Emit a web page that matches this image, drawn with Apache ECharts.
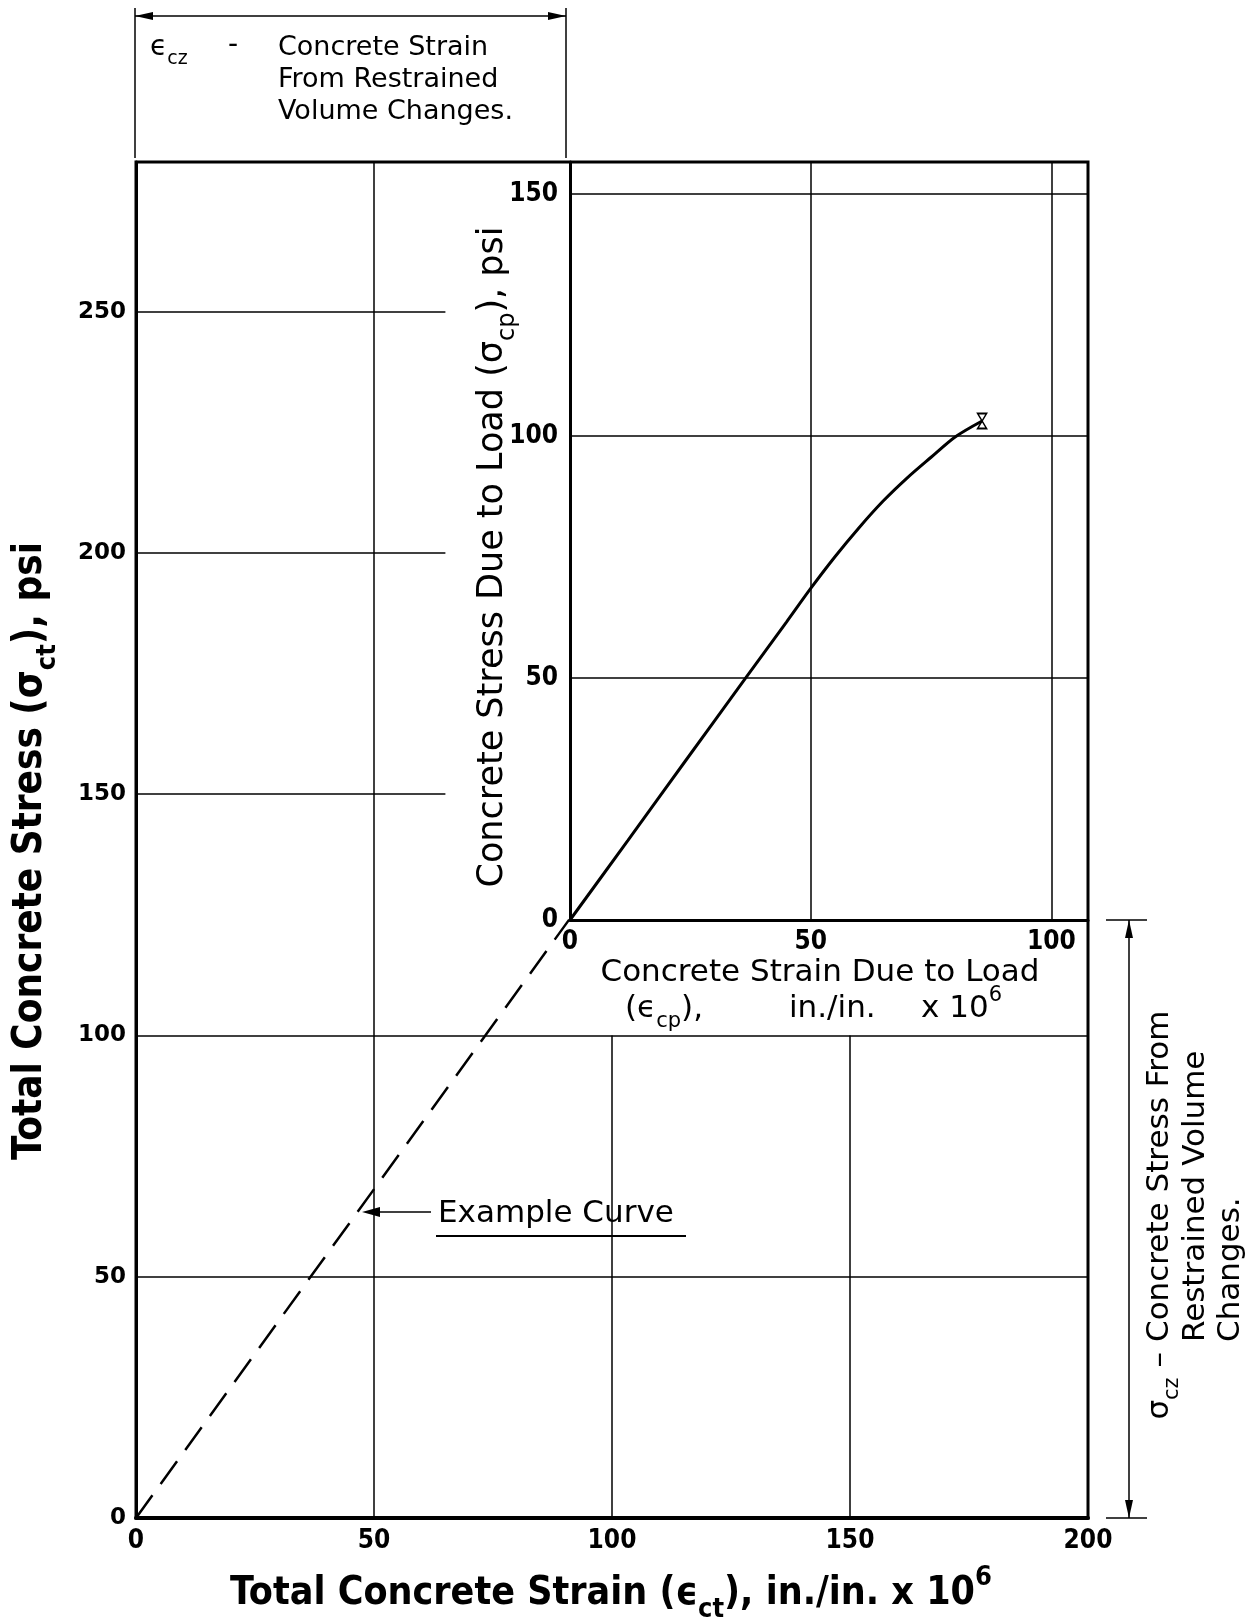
<!DOCTYPE html>
<html>
<head>
    <meta charset="utf-8">
    <title>Total Concrete Stress vs Strain</title>
    <style type="text/css">
        body {
            margin: 0;
            background: #fff;
        }
        #chart {
            width: 1248px;
            height: 1617px;
        }
    </style>
</head>
<body>

    <div id="chart"></div>
    <script src="https://cdn.jsdelivr.net/npm/echarts@6/dist/echarts.min.js"></script>

    <script>
        // main chart: total strain / total stress
        var mainXTicks = [0, 50, 100, 150, 200];
        var mainYTicks = [0, 50, 100, 150, 200, 250];
        var mainXRange = [0, 200];
        var mainYRange = [0, 281];

        // inset: strain / stress due to load
        var insetXTicks = [0, 50, 100];
        var insetYTicks = [0, 50, 100, 150];
        var insetXRange = [0, 107.6];
        var insetYRange = [0, 156.6];

        // grid lines of the main chart, they stop short in the drawing: [value, from, to]
        var mainHGrid = [[250, 0, 65], [200, 0, 65], [150, 0, 65], [100, 0, 200], [50, 0, 200]];
        var mainVGrid = [[50, 0, 281], [100, 0, 100], [150, 0, 100]];

        // dashed example curve, runs to the inset origin
        var exampleStrain = [0, 91];
        var exampleStress = [0, 124];

        // concrete stress-strain curve due to load
        var loadStrain = [0, 12, 24, 36.5, 45, 50, 55, 60, 65, 70, 75, 80, 85.6];
        var loadStress = [0, 16.4, 32.9, 50, 61.6, 68.5, 75, 81, 86.5, 91.3, 95.6, 99.8, 103.1];

        var SANS = '"DejaVu Sans", "Liberation Sans", sans-serif';
        var COND = '"DejaVu Sans Condensed", "DejaVu Sans", sans-serif';

        function tickFormatter(ticks) {
            return function (v) {
                return ticks.indexOf(v) >= 0 ? String(v) : '';
            };
        }

        function pairs(xs, ys) {
            return xs.map(function (x, i) { return [x, ys[i]]; });
        }

        var gridLineData = mainHGrid.map(function (g) {
            return {coords: [[g[1], g[0]], [g[2], g[0]]]};
        }).concat(mainVGrid.map(function (g) {
            return {coords: [[g[0], g[1]], [g[0], g[2]]]};
        }));

        var chart = echarts.init(document.getElementById('chart'));

        chart.setOption({
            animation: false,
            backgroundColor: '#fff',
            grid: [
                {left: 136, top: 162, width: 952, height: 1356, show: true,
                    borderColor: '#000', borderWidth: 3, backgroundColor: 'transparent'},
                {left: 570, top: 162, width: 518, height: 758}
            ],
            xAxis: [
                {
                    gridIndex: 0, type: 'value', min: mainXRange[0], max: mainXRange[1], interval: 50,
                    axisLine: {onZero: false, lineStyle: {color: '#000', width: 4}},
                    axisTick: {show: false},
                    splitLine: {show: false},
                    axisLabel: {margin: 10, color: '#000', fontSize: 26, fontWeight: 'bold',
                        fontFamily: COND, formatter: tickFormatter(mainXTicks)}
                },
                {
                    gridIndex: 1, type: 'value', min: insetXRange[0], max: insetXRange[1], interval: 50,
                    axisLine: {onZero: false, lineStyle: {color: '#000', width: 3}},
                    axisTick: {show: false},
                    splitLine: {show: true, lineStyle: {color: '#000', width: 1.5}},
                    axisLabel: {margin: 9, color: '#000', fontSize: 26, fontWeight: 'bold',
                        fontFamily: COND, formatter: tickFormatter(insetXTicks)}
                }
            ],
            yAxis: [
                {
                    gridIndex: 0, type: 'value', min: mainYRange[0], max: mainYRange[1], interval: 50,
                    axisLine: {onZero: false, lineStyle: {color: '#000', width: 3}},
                    axisTick: {show: false},
                    splitLine: {show: false},
                    axisLabel: {margin: 10, color: '#000', fontSize: 23, fontWeight: 'bold',
                        fontFamily: SANS, formatter: tickFormatter(mainYTicks)}
                },
                {
                    gridIndex: 1, type: 'value', min: insetYRange[0], max: insetYRange[1], interval: 50,
                    axisLine: {onZero: false, lineStyle: {color: '#000', width: 3}},
                    axisTick: {show: false},
                    splitLine: {show: true, lineStyle: {color: '#000', width: 1.5}},
                    axisLabel: {margin: 12, color: '#000', fontSize: 26, fontWeight: 'bold',
                        fontFamily: COND, formatter: tickFormatter(insetYTicks)}
                }
            ],
            series: [
                {
                    name: 'grid',
                    type: 'lines',
                    coordinateSystem: 'cartesian2d',
                    xAxisIndex: 0,
                    yAxisIndex: 0,
                    silent: true,
                    z: 1,
                    data: gridLineData,
                    lineStyle: {color: '#000', width: 1.5, opacity: 1}
                },
                {
                    name: 'Example Curve',
                    type: 'line',
                    xAxisIndex: 0,
                    yAxisIndex: 0,
                    showSymbol: false,
                    data: pairs(exampleStrain, exampleStress),
                    lineStyle: {color: '#000', width: 2.5, type: [28, 14]}
                },
                {
                    name: 'load',
                    type: 'line',
                    xAxisIndex: 1,
                    yAxisIndex: 1,
                    smooth: 0.3,
                    showSymbol: false,
                    data: pairs(loadStrain, loadStress),
                    lineStyle: {color: '#000', width: 3}
                },
                {
                    name: 'end',
                    type: 'scatter',
                    xAxisIndex: 1,
                    yAxisIndex: 1,
                    data: [[loadStrain[loadStrain.length - 1], loadStress[loadStress.length - 1]]],
                    symbol: 'path://M0,0L10,0L0,18L10,18Z',
                    symbolSize: [9, 15],
                    itemStyle: {color: '#fff', borderColor: '#000', borderWidth: 1.5, opacity: 1}
                }
            ]
        });

        // annotations
        function rich(size, weight, family) {
            var s = Math.round(size * 0.68);
            return {
                a: {fontSize: size, fontWeight: weight, fontFamily: family, fill: '#000',
                    lineHeight: Math.round(size * 1.5), verticalAlign: 'middle'},
                s: {fontSize: s, fontWeight: weight, fontFamily: family, fill: '#000',
                    lineHeight: s, verticalAlign: 'bottom'},
                p: {fontSize: s, fontWeight: weight, fontFamily: family, fill: '#000',
                    lineHeight: s, verticalAlign: 'top'}
            };
        }

        function text(x, y, str, size, opt) {
            opt = opt || {};
            var weight = opt.weight || 'normal';
            var family = opt.family || SANS;
            var align = opt.align || 'left';
            return {
                type: 'text',
                x: x,
                y: y,
                rotation: opt.rotate ? Math.PI / 2 : 0,
                silent: true,
                style: {
                    text: str,
                    rich: rich(size, weight, family),
                    fontSize: size,
                    fontWeight: weight,
                    fontFamily: family,
                    fill: '#000',
                    align: align,
                    textAlign: align,
                    verticalAlign: 'middle',
                    textVerticalAlign: 'middle'
                }
            };
        }

        function seg(x1, y1, x2, y2, w) {
            return {type: 'line', silent: true, shape: {x1: x1, y1: y1, x2: x2, y2: y2},
                style: {stroke: '#000', lineWidth: w || 1.5}};
        }

        function head(points) {
            return {type: 'polygon', silent: true, shape: {points: points}, style: {fill: '#000'}};
        }

        var mainOrigin = chart.convertToPixel({gridIndex: 0}, [0, 0]);
        var insetOrigin = chart.convertToPixel({gridIndex: 1}, [0, 0]);
        var topY = 16;
        var leftX = mainOrigin[0] - 1;
        var rightX = insetOrigin[0] - 4;
        var dimX = 1129;

        var elements = [
            // dimension for strain from restrained volume changes
            seg(leftX, 8, leftX, 158, 1.5),
            seg(rightX, 8, rightX, 158, 1.5),
            seg(leftX, topY, rightX, topY, 1.5),
            head([[leftX, topY], [leftX + 18, topY - 4], [leftX + 18, topY + 4]]),
            head([[rightX, topY], [rightX - 18, topY - 4], [rightX - 18, topY + 4]]),
            text(150, 48, '{a|ϵ}{s|cz}', 28),
            text(228, 46, '{a|-}', 28),
            text(278, 48, '{a|Concrete Strain}', 27),
            text(278, 80, '{a|From Restrained}', 27),
            text(278, 112, '{a|Volume Changes.}', 27),

            // dimension for stress from restrained volume changes
            seg(1106, insetOrigin[1], 1147, insetOrigin[1], 1.5),
            seg(1106, mainOrigin[1], 1147, mainOrigin[1], 1.5),
            seg(dimX, insetOrigin[1], dimX, mainOrigin[1], 1.5),
            head([[dimX, insetOrigin[1]], [dimX - 4, insetOrigin[1] + 18], [dimX + 4, insetOrigin[1] + 18]]),
            head([[dimX, mainOrigin[1]], [dimX - 4, mainOrigin[1] - 18], [dimX + 4, mainOrigin[1] - 18]]),
            text(1160, 1352, '{a|σ}{s|cz}{a| –}', 31, {rotate: true, align: 'right'}),
            text(1160, 1342, '{a|Concrete Stress From}', 31, {rotate: true}),
            text(1196, 1342, '{a|Restrained Volume}', 31, {rotate: true}),
            text(1231, 1342, '{a|Changes.}', 31, {rotate: true}),

            // example curve pointer
            seg(378, 1212, 431, 1212, 1.5),
            head([[362, 1212], [380, 1207], [380, 1217]]),
            text(438, 1214, '{a|Example Curve}', 31),
            seg(436, 1236, 686, 1236, 2),

            // axis titles
            text(611, 1594, '{a|Total Concrete Strain (}{a|ϵ}{s|ct}{a|), in./in. x 10}{p|6}', 39,
                {align: 'center', weight: 'bold', family: COND}),
            text(31, 851, '{a|Total Concrete Stress (}{a|σ}{s|ct}{a|), psi}', 40,
                {align: 'center', weight: 'bold', family: COND, rotate: true}),
            text(820, 973, '{a|Concrete Strain Due to Load}', 31, {align: 'center'}),
            text(625, 1009, '{a|(ϵ}{s|cp}{a|),}', 31),
            text(789, 1009, '{a|in./in.}', 31),
            text(921, 1009, '{a|x 10}{p|6}', 31),
            text(493, 557, '{a|Concrete Stress Due to Load (σ}{s|cp}{a|), psi}', 35,
                {align: 'center', rotate: true})
        ];

        chart.setOption({graphic: {elements: elements}});

        window.addEventListener('resize', function () {
            chart.resize();
        });
    </script>
</body>
</html>
